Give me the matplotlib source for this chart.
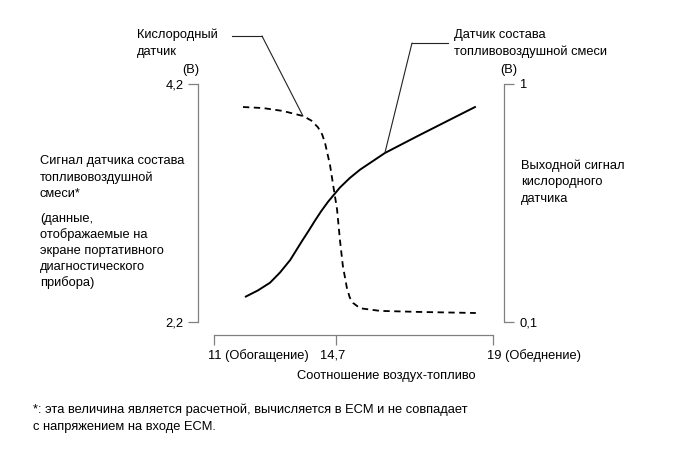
import numpy as np
import matplotlib
matplotlib.use("Agg")
import matplotlib.pyplot as plt
from matplotlib.transforms import ScaledTranslation

plt.rcParams['font.family'] = ['Liberation Sans', 'DejaVu Sans']

W, H = 691, 465

# air-fuel ratio axis
af_ticks = [11, 14.7, 19]
af_tick_labels = ['11 (Обогащение)', '14,7', '19 (Обеднение)']
af_tick_pos = [0.0, 0.437, 1.0]   # schematic: 14,7 not drawn to scale

# A/F sensor signal (V), left axis 2,2 .. 4,2
af_x = [11.94, 12.33, 12.70, 13.00, 13.31, 13.49, 13.67, 13.88, 14.06, 14.25, 14.46,
        14.81, 15.08, 15.36, 16.04, 16.92, 17.82, 18.53]
af_v = [2.41, 2.465, 2.53, 2.615, 2.72, 2.80, 2.88, 2.97, 3.05, 3.13, 3.21,
        3.33, 3.41, 3.48, 3.62, 3.76, 3.90, 4.01]

# oxygen sensor output (V), right axis 0,1 .. 1
o2_x = [11.88, 12.49, 13.09, 13.70, 13.95, 14.15, 14.28, 14.37, 14.52, 14.64, 14.73,
        14.81, 14.89, 15.00, 15.08, 15.17, 15.36, 15.91, 17.00, 18.53]
o2_v = [0.913, 0.909, 0.898, 0.879, 0.862, 0.837, 0.810, 0.777, 0.694, 0.599, 0.527,
        0.410, 0.312, 0.229, 0.192, 0.172, 0.152, 0.142, 0.138, 0.134]

left_ticks = [2.2, 4.2]
right_ticks = [0.1, 1.0]

GRAY = '#808080'
FS = 9.25


def fwd(x):
    return np.interp(x, af_ticks, af_tick_pos)


def inv(f):
    return np.interp(f, af_tick_pos, af_ticks)


def px(x, y):
    # figure pixels (top-left origin) -> figure fraction
    return x / W, 1 - y / H


def lines_at(lines, x, y0, step, **kw):
    for i, s in enumerate(lines):
        fig.text(*px(x, y0 + i * step), s, va='center', fontsize=FS, **kw)


fig = plt.figure(figsize=(W / 100, H / 100), dpi=100)
ax = fig.add_axes([214 / W, 1 - 322 / H, (493 - 214) / W, (322 - 84) / H])
ax.patch.set_alpha(0)
ax.set_xscale('function', functions=(fwd, inv))
ax.set_xlim(11, 19)
ax.set_ylim(2.2, 4.2)

ax2 = ax.twinx()
ax2.set_ylim(0.1, 1.0)

for a in (ax, ax2):
    for s in a.spines.values():
        s.set_visible(False)
        s.set_color(GRAY)
        s.set_linewidth(0.9)

ax.spines['left'].set_visible(True)
ax.spines['left'].set_position(('outward', 16 * 0.72))
ax.spines['bottom'].set_visible(True)
ax.spines['bottom'].set_position(('outward', 13 * 0.72))
ax2.spines['right'].set_visible(True)
ax2.spines['right'].set_position(('outward', 11 * 0.72))

ax.set_xticks(af_ticks)
ax.set_xticklabels(af_tick_labels)
ax.set_yticks(left_ticks)
ax.set_yticklabels(['2,2', '4,2'])
ax2.set_yticks(right_ticks)
ax2.set_yticklabels(['0,1', '1'])
ax.tick_params(axis='x', direction='out', length=7.2, width=0.9, color=GRAY, pad=3, labelsize=FS)
ax.tick_params(axis='y', direction='out', length=7.2, width=0.9, color=GRAY, pad=3, labelsize=FS)
ax2.tick_params(axis='y', direction='out', length=7.2, width=0.9, color=GRAY, pad=4, labelsize=FS)

shift = ScaledTranslation(-6 / 100, 0, fig.dpi_scale_trans)
xl = ax.get_xticklabels()
for i, lab in enumerate(xl):
    if i == 1:
        lab.set_horizontalalignment('center')
        lab.set_transform(lab.get_transform() + ScaledTranslation(-3 / 100, 0, fig.dpi_scale_trans))
    else:
        lab.set_horizontalalignment('left')
        lab.set_transform(lab.get_transform() + shift)

ax.plot(af_x, af_v, color='black', lw=1.4, solid_capstyle='butt', solid_joinstyle='round')
ax2.plot(o2_x, o2_v, color='black', lw=1.3, dashes=(3.5, 2.5))

# leader lines
ax.annotate('', xy=(16.04, 3.62), xycoords='data',
            xytext=(412, H - 43), textcoords='figure pixels',
            arrowprops=dict(arrowstyle='-', lw=0.8, color='#222222', shrinkA=0, shrinkB=0))
ax2.annotate('', xy=(13.70, 0.879), xycoords='data',
             xytext=(262, H - 36), textcoords='figure pixels',
             arrowprops=dict(arrowstyle='-', lw=0.8, color='#222222', shrinkA=0, shrinkB=0))
fig.add_artist(plt.Line2D([232 / W, 262 / W], [1 - 36 / H] * 2, lw=0.8, color='#222222'))
fig.add_artist(plt.Line2D([412 / W, 448 / W], [1 - 43 / H] * 2, lw=0.8, color='#222222'))

lines_at(['Кислородный', 'датчик'], 137, 35, 17)
lines_at(['Датчик состава', 'топливовоздушной смеси'], 454, 35, 17)
fig.text(*px(191, 70), '(B)', ha='center', va='center', fontsize=FS)
fig.text(*px(509, 70), '(B)', ha='center', va='center', fontsize=FS)

lines_at(['Сигнал датчика состава', 'топливовоздушной', 'смеси*'], 40, 161, 16.5)
lines_at(['(данные,', 'отображаемые на', 'экране портативного',
          'диагностического', 'прибора)'], 40, 219, 16)
lines_at(['Выходной сигнал', 'кислородного', 'датчика'], 521, 166, 16.5)

fig.text(*px(386, 376), 'Соотношение воздух-топливо', ha='center', va='center', fontsize=FS)
lines_at(['*: эта величина является расчетной, вычисляется в ECM и не совпадает',
          'с напряжением на входе ECM.'], 33, 410, 17)

fig.savefig('out.png', dpi=100)
